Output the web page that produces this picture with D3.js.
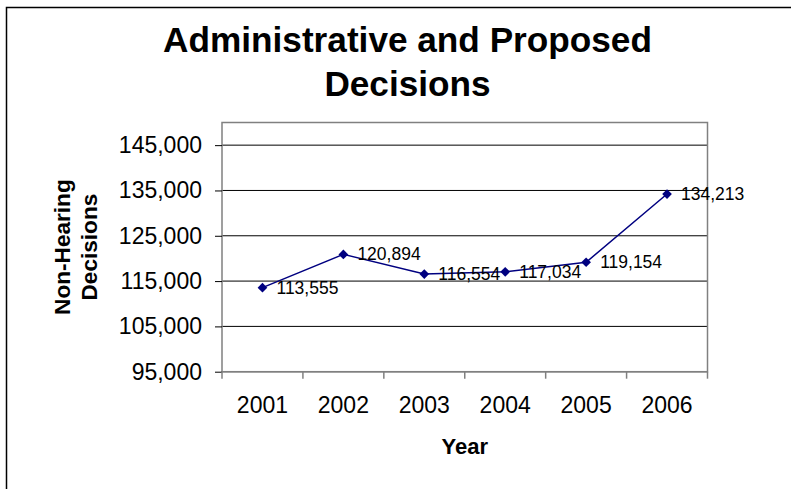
<!DOCTYPE html>
<html lang="en">
<head>
    <meta charset="UTF-8">
    <title>Administrative and Proposed Decisions</title>
    <style>
        body{ margin: 0; background: #fff; }
        svg{ display: block; font-family: "Liberation Sans", Arial, sans-serif; }
    </style>
    <script src="https://d3js.org/d3.v7.min.js"></script>
</head>
<body>
    <div id="svg"></div>
    <script>
        const years = ["2001", "2002", "2003", "2004", "2005", "2006"];
        const decisions = [113555, 120894, 116554, 117034, 119154, 134213];
        const yTicks = [95000, 105000, 115000, 125000, 135000, 145000];
        const titleLines = ["Administrative and Proposed", "Decisions"];
        const yTitleLines = ["Non-Hearing", "Decisions"];

        const data = years.map((y, i) => ({ year: y, value: decisions[i] }));

        const { boxWidth, boxHeight } = { boxWidth: 791, boxHeight: 489 };
        const { plotLeft, plotTop, plotRight, plotBottom } = { plotLeft: 222, plotTop: 122.5, plotRight: 707.5, plotBottom: 371.7 };

        const svg = d3.select('#svg').append('svg')
            .attr("width", boxWidth).attr("height", boxHeight);

        // outer chart frame (runs past the window on right and bottom)
        svg.append("rect")
            .attr("x", 6.5).attr("y", 7.5).attr("width", 900).attr("height", 600)
            .attr("fill", "none").attr("stroke", "#000").attr("stroke-width", 1.5);

        const xScale = d3.scaleBand().domain(years).range([plotLeft, plotRight]);
        const yScale = d3.scaleLinear().domain([95000, 150000]).range([plotBottom, plotTop]);

        // gridlines
        svg.append("g").selectAll("line").data(yTicks.slice(1)).join("line")
            .attr("x1", plotLeft).attr("x2", plotRight)
            .attr("y1", d => yScale(d)).attr("y2", d => yScale(d))
            .attr("stroke", "#000").attr("stroke-width", 1);

        // plot border
        svg.append("rect")
            .attr("x", plotLeft).attr("y", plotTop).attr("width", plotRight - plotLeft).attr("height", plotBottom - plotTop)
            .attr("fill", "none").attr("stroke", "#808080").attr("stroke-width", 1.5);

        // y axis
        const yAxis = d3.axisLeft(yScale).tickValues(yTicks).tickFormat(d3.format(",")).tickSize(7).tickPadding(13);
        const gy = svg.append("g").attr("transform", `translate(${plotLeft},0)`).call(yAxis);
        gy.select(".domain").remove();
        gy.selectAll(".tick line").attr("stroke", "#000");
        gy.selectAll(".tick text").attr("font-size", 23).attr("fill", "#000")
            .attr("font-family", "Liberation Sans, Arial, sans-serif");

        // x axis: ticks at category boundaries
        const gx = svg.append("g").attr("transform", `translate(0,${plotBottom})`);
        gx.append("line").attr("x1", plotLeft).attr("x2", plotRight).attr("stroke", "#808080").attr("stroke-width", 1.5);
        const bounds = years.map(y => xScale(y)).concat([plotRight]);
        gx.selectAll(".bt").data(bounds).join("line").attr("class", "bt")
            .attr("x1", d => d).attr("x2", d => d).attr("y1", 0).attr("y2", 7)
            .attr("stroke", "#808080").attr("stroke-width", 1.5);
        gx.selectAll("text").data(years).join("text")
            .attr("x", d => xScale(d) + xScale.bandwidth() / 2).attr("y", 41)
            .attr("text-anchor", "middle").attr("font-size", 23).text(d => d);

        // line + markers
        const cx = d => xScale(d.year) + xScale.bandwidth() / 2;
        svg.append("path").datum(data)
            .attr("d", d3.line().x(cx).y(d => yScale(d.value)))
            .attr("fill", "none").attr("stroke", "#000080").attr("stroke-width", 1.5);
        svg.append("g").selectAll("path").data(data).join("path")
            .attr("d", d3.symbol().type(d3.symbolDiamond2).size(60))
            .attr("transform", d => `translate(${cx(d)},${yScale(d.value)})`)
            .attr("fill", "#000080");
        svg.append("g").selectAll("text").data(data).join("text")
            .attr("x", d => cx(d) + 14).attr("y", d => yScale(d.value) + 6)
            .attr("font-size", 17.5).text(d => d3.format(",")(d.value));

        // titles
        svg.append("text").attr("text-anchor", "middle").attr("font-weight", "bold").attr("font-size", 35.2)
            .selectAll("tspan").data(titleLines).join("tspan")
            .attr("x", 407.5).attr("y", (d, i) => 52 + i * 44).text(d => d);

        svg.append("text").attr("transform", `translate(70,${(plotTop + plotBottom) / 2}) rotate(-90)`)
            .attr("text-anchor", "middle").attr("font-weight", "bold").attr("font-size", 22.6)
            .selectAll("tspan").data(yTitleLines).join("tspan")
            .attr("x", 0).attr("y", (d, i) => i * 27).text(d => d);

        svg.append("text").attr("x", (plotLeft + plotRight) / 2).attr("y", 454)
            .attr("text-anchor", "middle").attr("font-weight", "bold").attr("font-size", 22).text("Year");
    </script>
</body>
</html>
